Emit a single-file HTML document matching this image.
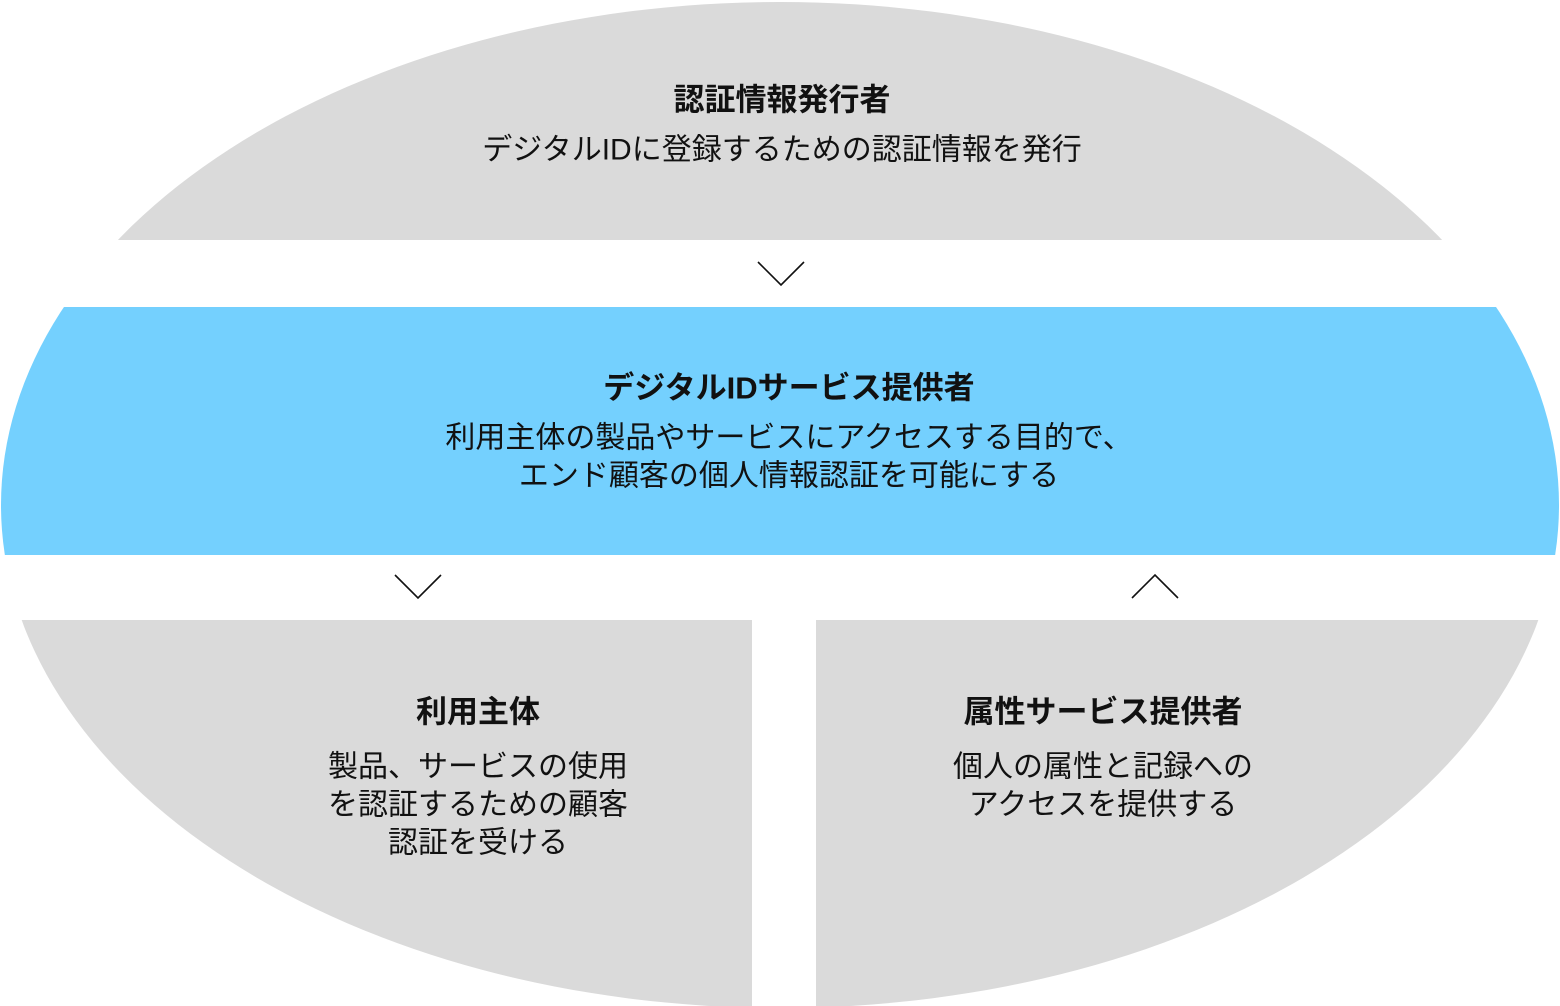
<!DOCTYPE html>
<html><head><meta charset="utf-8"><style>
html,body{margin:0;padding:0;background:#fff}
svg{display:block}
text{font-family:"Liberation Sans","Noto Sans CJK JP",sans-serif;font-size:30px;fill:#111;text-anchor:middle;dominant-baseline:central}
.b{font-weight:bold;font-size:31px}
</style></head><body>
<svg width="1560" height="1006" viewBox="0 0 1560 1006">
<defs><clipPath id="e"><ellipse cx="780" cy="505" rx="779" ry="503"/></clipPath></defs>
<g clip-path="url(#e)">
<rect x="0" y="0" width="1560" height="240" fill="#dadada"/>
<rect x="0" y="307" width="1560" height="248" fill="#74d0fe"/>
<rect x="0" y="620" width="752" height="400" fill="#dadada"/>
<rect x="816" y="620" width="760" height="400" fill="#dadada"/>
</g>
<g fill="none" stroke="#111" stroke-width="1.6">
<polyline points="758,262 781,285 804,262"/>
<polyline points="395,575 418,598 441,575"/>
<polyline points="1132,598 1155,575 1178,598"/>
</g>
<text class="b" x="782" y="100">認証情報発行者</text>
<text x="782" y="150">デジタルIDに登録するための認証情報を発行</text>
<text class="b" x="789" y="388">デジタルIDサービス提供者</text>
<text x="789" y="438">利用主体の製品やサービスにアクセスする目的で、</text>
<text x="789" y="476">エンド顧客の個人情報認証を可能にする</text>
<text class="b" x="478" y="712">利用主体</text>
<text x="478" y="767">製品、サービスの使用</text>
<text x="478" y="805">を認証するための顧客</text>
<text x="478" y="843">認証を受ける</text>
<text class="b" x="1103" y="712">属性サービス提供者</text>
<text x="1103" y="767">個人の属性と記録への</text>
<text x="1103" y="805">アクセスを提供する</text>
</svg>
</body></html>
